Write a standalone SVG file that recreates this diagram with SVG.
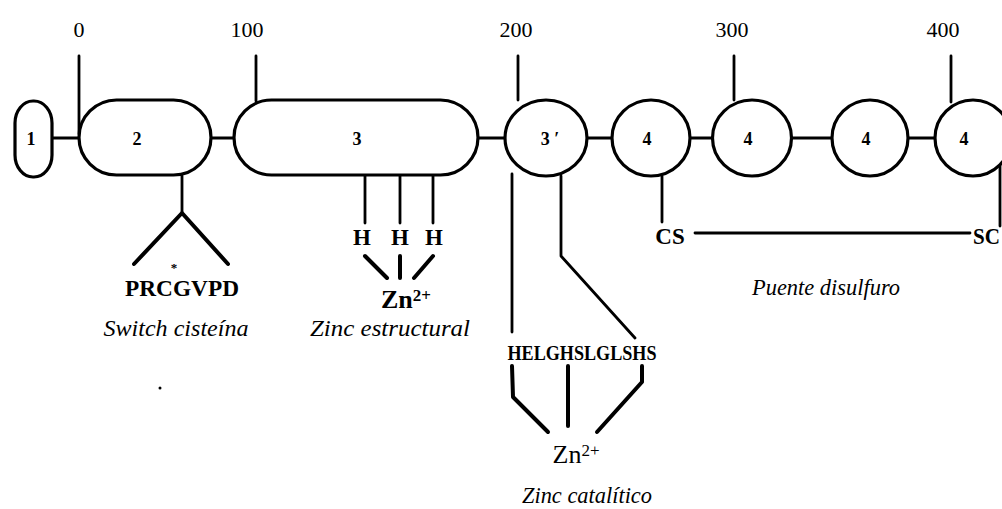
<svg xmlns="http://www.w3.org/2000/svg" width="1002" height="509" viewBox="0 0 1002 509">
<style>
.sh{fill:#fff;stroke:#000;stroke-width:3.2}
.ln{fill:none;stroke:#000;stroke-width:2.8;stroke-linecap:round;stroke-linejoin:round}
.th{fill:none;stroke:#000;stroke-width:4;stroke-linecap:round;stroke-linejoin:round}
.num{font-family:"Liberation Serif",serif;font-size:22px;text-anchor:middle}
.lb{font-family:"Liberation Serif",serif;font-size:18px;font-weight:bold;text-anchor:middle}
.aa{font-family:"Liberation Serif",serif;font-size:23px;font-weight:bold;text-anchor:middle}
.it{font-family:"Liberation Serif",serif;font-size:23px;font-style:italic;text-anchor:middle}
.zn{font-family:"Liberation Serif",serif;font-size:26px;text-anchor:middle}
</style>
<rect width="1002" height="509" fill="#fff"/>
<g id="connectors">
<line class="ln" x1="52" y1="138" x2="80" y2="138"/>
<line class="ln" x1="211" y1="138" x2="235" y2="138"/>
<line class="ln" x1="478" y1="138" x2="505" y2="138"/>
<line class="ln" x1="587" y1="138" x2="612" y2="138"/>
<line class="ln" x1="690" y1="138" x2="713" y2="138"/>
<line class="ln" x1="792" y1="138" x2="832" y2="138"/>
<line class="ln" x1="908" y1="138" x2="935" y2="138"/>
</g>
<g id="scale">
<text class="num" x="79" y="37">0</text>
<text class="num" x="247" y="37">100</text>
<text class="num" x="516" y="37">200</text>
<text class="num" x="732" y="37">300</text>
<text class="num" x="943" y="37">400</text>
<line class="ln" x1="79" y1="56" x2="79" y2="134"/>
<line class="ln" x1="256" y1="56" x2="256" y2="101"/>
<line class="ln" x1="518" y1="56" x2="518" y2="100"/>
<line class="ln" x1="734" y1="56" x2="734" y2="100"/>
<line class="ln" x1="951" y1="56" x2="951" y2="102"/>
</g>
<g id="n1"><rect class="sh" x="15" y="101" width="37" height="76" rx="18" ry="22"/><text class="lb" x="31" y="145">1</text></g>
<g id="n2"><rect class="sh" x="79" y="100" width="132" height="75" rx="37.5"/><text class="lb" x="137" y="145">2</text></g>
<g id="n3"><rect class="sh" x="234" y="100" width="244" height="75" rx="37.5"/><text class="lb" x="357" y="145">3</text></g>
<g id="n3p"><ellipse class="sh" cx="546" cy="138" rx="41" ry="38"/><text class="lb" x="550" y="145">3 ′</text></g>
<g id="n4a"><ellipse class="sh" cx="651" cy="138" rx="39" ry="38"/><text class="lb" x="647" y="145">4</text></g>
<g id="n4b"><ellipse class="sh" cx="752" cy="138" rx="39.5" ry="38"/><text class="lb" x="748" y="145">4</text></g>
<g id="n4c"><ellipse class="sh" cx="870" cy="138" rx="38" ry="38"/><text class="lb" x="866" y="145">4</text></g>
<g id="n4d"><ellipse class="sh" cx="973" cy="138" rx="38" ry="38"/><text class="lb" x="964" y="145">4</text></g>
<g id="switch">
<line class="ln" x1="182" y1="176" x2="182" y2="212"/>
<polyline class="th" points="134,264 182,213 228,264"/>
<text class="lb" x="174" y="272" style="font-size:13px">*</text>
<text class="aa" x="182" y="296" textLength="114" lengthAdjust="spacingAndGlyphs">PRCGVPD</text>
<text class="it" x="176" y="336" textLength="145" lengthAdjust="spacingAndGlyphs">Switch cisteína</text>
<circle cx="160" cy="388" r="1.5" fill="#000"/>
</g>
<g id="zinc-estructural">
<line class="ln" x1="365" y1="176" x2="365" y2="223"/>
<line class="ln" x1="400" y1="176" x2="400" y2="223"/>
<line class="ln" x1="433" y1="176" x2="433" y2="223"/>
<text class="aa" x="362" y="245">H</text>
<text class="aa" x="400" y="245">H</text>
<text class="aa" x="434" y="245">H</text>
<line class="th" x1="365" y1="256" x2="387" y2="278"/>
<line class="th" x1="400" y1="256" x2="400" y2="278"/>
<line class="th" x1="433" y1="256" x2="414" y2="278"/>
<text class="zn" x="406" y="308" style="font-weight:bold">Zn<tspan dy="-7" font-size="17">2+</tspan></text>
<text class="it" x="390" y="336" textLength="160" lengthAdjust="spacingAndGlyphs">Zinc estructural</text>
</g>
<g id="zinc-catalitico">
<line class="ln" x1="512" y1="174" x2="512" y2="332"/>
<polyline class="ln" points="561,176 561,256 635,338"/>
<text class="lb" x="582" y="360" style="font-size:21px" textLength="149" lengthAdjust="spacingAndGlyphs">HELGHSLGLSHS</text>
<polyline class="th" points="512,366 513,397 548,432"/>
<line class="th" x1="568" y1="366" x2="568" y2="426"/>
<polyline class="th" points="642,366 642,382 597,432"/>
<text class="zn" x="576" y="463">Zn<tspan dy="-7" font-size="17">2+</tspan></text>
<text class="it" x="587" y="503" textLength="130" lengthAdjust="spacingAndGlyphs">Zinc catalítico</text>
</g>
<g id="disulfuro">
<line class="ln" x1="662" y1="176" x2="662" y2="222"/>
<line class="ln" x1="1000" y1="166" x2="1000" y2="226"/>
<text class="aa" x="670" y="244">CS</text>
<line class="ln" x1="695" y1="233" x2="970" y2="233"/>
<text class="aa" x="973" y="244" style="text-anchor:start" textLength="27" lengthAdjust="spacingAndGlyphs">SC</text>
<text class="it" x="826" y="295" textLength="148" lengthAdjust="spacingAndGlyphs">Puente disulfuro</text>
</g>
</svg>
